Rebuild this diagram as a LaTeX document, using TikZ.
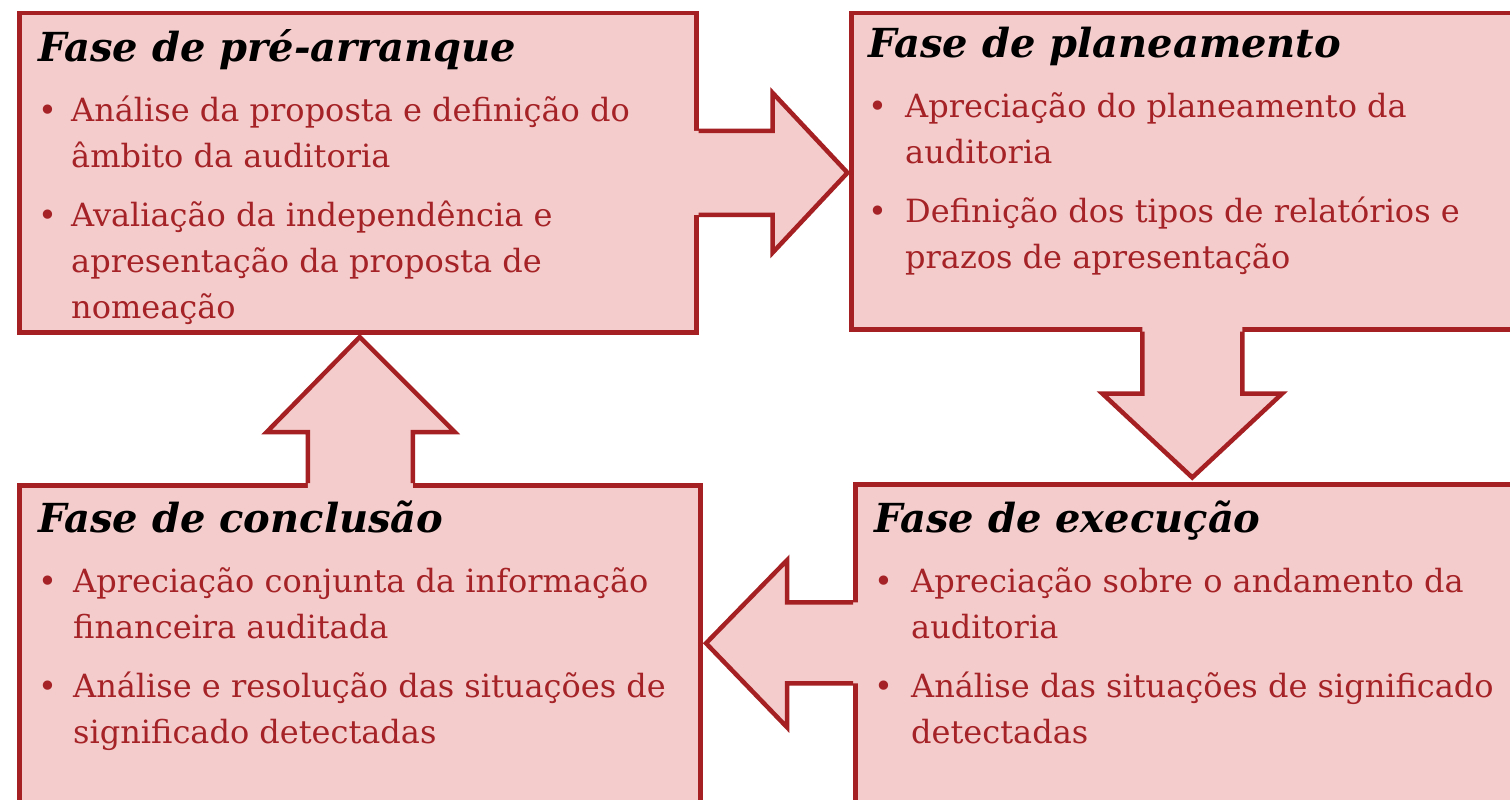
\documentclass[tikz,border=0pt]{standalone}
\usepackage{fontspec}
\setmainfont{DejaVu Serif}
\usepackage{tikz}
\usetikzlibrary{positioning}
\usepackage{xcolor}

\definecolor{phasefill}{RGB}{244,204,204}
\definecolor{phaseline}{RGB}{165,32,34}
\definecolor{phasetext}{RGB}{165,35,38}

\newcommand{\phasetitle}[1]{{\fontsize{40}{46}\selectfont\bfseries\itshape\color{black}#1}}

\tikzset{
  phase/.style={draw=phaseline, fill=phasefill, line width=4.5pt, inner sep=0pt, anchor=north west},
  phasetxt/.style={anchor=base west, inner sep=0pt, text=phasetext, font=\fontsize{32}{46}\selectfont},
  blockfill/.style={fill=phasefill, draw=none},
  blockline/.style={draw=phaseline, line width=4.5pt, line join=miter}
}

\begin{document}
\begin{tikzpicture}[x=1pt, y=-1pt]

\useasboundingbox (0,0) rectangle (1510,800);
\clip (0,0) rectangle (1510,800);

% the four phases
\node[phase, minimum width=677pt, minimum height=319pt] (pre) at (17,11) {};
\node[phase, minimum width=682pt, minimum height=316pt] (plan) at (849,11) {};
\node[phase, minimum width=678pt, minimum height=318pt] (exec) at (853,482) {};
\node[phase, minimum width=681pt, minimum height=317pt] (concl) at (17,483) {};

% block arrows
\fill[blockfill] ([shift={(-6,-42)}]pre.east) --++(80,0)--++(0,-38)--++(75,80)--++(-75,80)--++(0,-38)--++(-80,0)--cycle;
\draw[blockline] ([shift={(0,-42)}]pre.east) --++(74,0)--++(0,-38)--++(75,80)--++(-75,80)--++(0,-38)--++(-74,0);

\fill[blockfill] ([shift={(-50,-6)}]plan.south) --++(0,68)--++(-40,0)--++(90,84)--++(90,-84)--++(-40,0)--++(0,-68)--cycle;
\draw[blockline] ([shift={(-50,0)}]plan.south) --++(0,62)--++(-40,0)--++(90,84)--++(90,-84)--++(-40,0)--++(0,-62);

\fill[blockfill] ([shift={(6,-41)}]exec.west) --++(-72,0)--++(0,-42)--++(-81,83)--++(81,84)--++(0,-44)--++(72,0)--cycle;
\draw[blockline] ([shift={(0,-41)}]exec.west) --++(-66,0)--++(0,-42)--++(-81,83)--++(81,84)--++(0,-44)--++(66,0);

\fill[blockfill] ([shift={(-52,6)}]concl.north) --++(0,-57)--++(-41,0)--++(93,-95)--++(95,95)--++(-42,0)--++(0,57)--cycle;
\draw[blockline] ([shift={(-52,0)}]concl.north) --++(0,-51)--++(-41,0)--++(93,-95)--++(95,95)--++(-42,0)--++(0,51);

% texts
\node[phasetxt] (pretxt) at ([shift={(21,51)}]pre.north west) {%
\begin{tabular}[t]{@{}p{33pt}@{}l@{}}
\multicolumn{2}{@{}l@{}}{\phasetitle{Fase de pré-arranque}}\\[14pt]
\textbullet & Análise da proposta e definição do\\
 & âmbito da auditoria\\[13pt]
\textbullet & Avaliação da independência e\\
 & apresentação da proposta de\\
 & nomeação
\end{tabular}};

\node[phasetxt] (plantxt) at ([shift={(19,47)}]plan.north west) {%
\begin{tabular}[t]{@{}p{37pt}@{}l@{}}
\multicolumn{2}{@{}l@{}}{\phasetitle{Fase de planeamento}}\\[14pt]
\textbullet & Apreciação do planeamento da\\
 & auditoria\\[13pt]
\textbullet & Definição dos tipos de relatórios e\\
 & prazos de apresentação
\end{tabular}};

\node[phasetxt] (exectxt) at ([shift={(21,50)}]exec.north west) {%
\begin{tabular}[t]{@{}p{37pt}@{}l@{}}
\multicolumn{2}{@{}l@{}}{\phasetitle{Fase de execução}}\\[14pt]
\textbullet & Apreciação sobre o andamento da\\
 & auditoria\\[13pt]
\textbullet & Análise das situações de significado\\
 & detectadas
\end{tabular}};

\node[phasetxt] (concltxt) at ([shift={(21,49)}]concl.north west) {%
\begin{tabular}[t]{@{}p{35pt}@{}l@{}}
\multicolumn{2}{@{}l@{}}{\phasetitle{Fase de conclusão}}\\[14pt]
\textbullet & Apreciação conjunta da informação\\
 & financeira auditada\\[13pt]
\textbullet & Análise e resolução das situações de\\
 & significado detectadas
\end{tabular}};

\end{tikzpicture}
\end{document}
